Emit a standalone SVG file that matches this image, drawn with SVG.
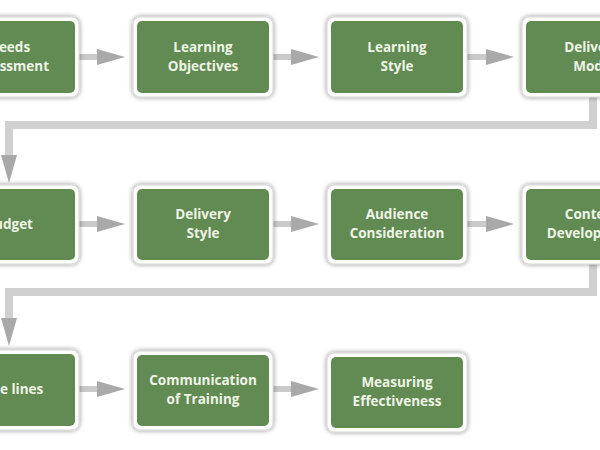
<svg xmlns="http://www.w3.org/2000/svg" width="600" height="450" viewBox="0 0 600 450">
<defs>
<style>
.card{fill:#ffffff;stroke:#d4d4d4;stroke-width:1;filter:url(#sh)}
.inner{fill:#618b52}
.t{font-family:"Open Sans","Liberation Sans",sans-serif;font-weight:bold;font-size:13.5px;fill:#eef4e6;text-anchor:middle}
.arr{fill:none;stroke:#cacaca;stroke-width:6;marker-end:url(#ah)}
.link{fill:none;stroke:#d0d0d0;stroke-width:8;stroke-linejoin:miter;marker-end:url(#ah)}
</style>
<filter id="sh" x="-20%" y="-20%" width="140%" height="140%">
<feGaussianBlur in="SourceAlpha" stdDeviation="2.5"/>
<feComponentTransfer><feFuncA type="linear" slope="0.45"/></feComponentTransfer>
<feMerge><feMergeNode/><feMergeNode in="SourceGraphic"/></feMerge>
</filter>
<marker id="ah" markerUnits="userSpaceOnUse" viewBox="0 0 28 16" refX="0" refY="8" markerWidth="28" markerHeight="16" orient="auto">
<path d="M0,0 L28,8 L0,16 z" fill="#a9a9a9"/>
</marker>
</defs>
<rect width="600" height="450" fill="#ffffff"/>
<g id="connectors">
<path class="arr" d="M79,57 H97"/>
<path class="arr" d="M273,57 H291"/>
<path class="arr" d="M467,57 H486"/>
<path class="link" d="M593,97 V125 H9 V155"/>
<path class="arr" d="M79,224 H97"/>
<path class="arr" d="M273,224 H291"/>
<path class="arr" d="M467,224 H486"/>
<path class="link" d="M593,264 V292 H9 V318"/>
<path class="arr" d="M79,389 H97"/>
<path class="arr" d="M273,389 H291"/>
</g>
<g id="n1"><rect class="card" x="-61" y="17" width="140" height="80" rx="7"/><rect class="inner" x="-57" y="21" width="132" height="72" rx="5"/><text class="t" x="9" y="52">Needs</text><text class="t" x="9" y="71">Assessment</text></g>
<g id="n2"><rect class="card" x="133" y="17" width="140" height="80" rx="7"/><rect class="inner" x="137" y="21" width="132" height="72" rx="5"/><text class="t" x="203" y="52">Learning</text><text class="t" x="203" y="71">Objectives</text></g>
<g id="n3"><rect class="card" x="327" y="17" width="140" height="80" rx="7"/><rect class="inner" x="331" y="21" width="132" height="72" rx="5"/><text class="t" x="397" y="52">Learning</text><text class="t" x="397" y="71">Style</text></g>
<g id="n4"><rect class="card" x="522" y="17" width="140" height="80" rx="7"/><rect class="inner" x="526" y="21" width="132" height="72" rx="5"/><text class="t" x="592" y="52">Delivery</text><text class="t" x="592" y="71">Mode</text></g>
<g id="n5"><rect class="card" x="-61" y="185" width="140" height="79" rx="7"/><rect class="inner" x="-57" y="189" width="132" height="71" rx="5"/><text class="t" x="9" y="229">Budget</text></g>
<g id="n6"><rect class="card" x="133" y="185" width="140" height="79" rx="7"/><rect class="inner" x="137" y="189" width="132" height="71" rx="5"/><text class="t" x="203" y="219">Delivery</text><text class="t" x="203" y="238">Style</text></g>
<g id="n7"><rect class="card" x="327" y="185" width="140" height="79" rx="7"/><rect class="inner" x="331" y="189" width="132" height="71" rx="5"/><text class="t" x="397" y="219">Audience</text><text class="t" x="397" y="238">Consideration</text></g>
<g id="n8"><rect class="card" x="522" y="185" width="140" height="79" rx="7"/><rect class="inner" x="526" y="189" width="132" height="71" rx="5"/><text class="t" x="592" y="219">Content</text><text class="t" x="592" y="238">Development</text></g>
<g id="n9"><rect class="card" x="-61" y="350" width="140" height="80" rx="7"/><rect class="inner" x="-57" y="354" width="132" height="72" rx="5"/><text class="t" x="9" y="394">Time lines</text></g>
<g id="n10"><rect class="card" x="133" y="351" width="140" height="79" rx="7"/><rect class="inner" x="137" y="355" width="132" height="71" rx="5"/><text class="t" x="203" y="385">Communication</text><text class="t" x="203" y="404">of Training</text></g>
<g id="n11"><rect class="card" x="327" y="353" width="140" height="79" rx="7"/><rect class="inner" x="331" y="357" width="132" height="71" rx="5"/><text class="t" x="397" y="387">Measuring</text><text class="t" x="397" y="406">Effectiveness</text></g>
</svg>
